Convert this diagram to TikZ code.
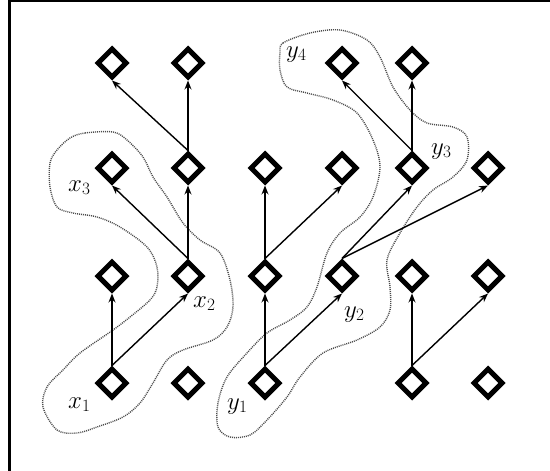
\documentclass[tikz,border=0pt]{standalone}
\usepackage{fontspec}
\setmainfont{Liberation Serif}
\usetikzlibrary{shapes.geometric,arrows.meta}
\newcommand\lbl[2]{$#1_{#2}$}
\tikzset{
  dia/.style={shape=diamond, draw, line width=5pt, minimum width=30pt, minimum height=30pt, inner sep=0pt, aspect=1},
  conn/.style={line width=1.4pt, -{Stealth[length=9pt,width=7pt,inset=3pt]}},
  hull/.style={draw=black!70, line width=1.4pt, dash pattern=on 1pt off 1pt},
  lab/.style={anchor=base west, inner sep=0pt, font=\fontsize{27}{27}\selectfont},
  frame/.style={line width=3pt}
}
\begin{document}
\begin{tikzpicture}[x=1pt,y=-1pt]
\useasboundingbox (0,0) rectangle (550,471);
\fill[white] (0,0) rectangle (550,471);
% frame (left and top edges)
\coordinate (fb) at (9.5,471);
\coordinate (fc) at (9.5,1.2);
\coordinate (fr) at (550,1.2);
\draw[frame] (fb) -- (fc);
\draw[line width=2.4pt] (8,1.2) -- (fr);
% hulls
\draw[hull] plot[smooth cycle, tension=0.55] coordinates {
 (70,138) (85,133) (113,132) (127,140) (143,157) (153,177) (167,197) (183,223)
 (200,240) (220,253) (230,280) (233,307) (227,327) (213,340) (183,350) (167,360)
 (153,383) (140,403) (123,417) (97,427) (77,433) (57,430) (43,407) (47,387)
 (63,370) (80,353) (113,330) (130,317) (150,300) (157,287) (157,267) (147,247)
 (120,227) (97,217) (73,213) (57,207) (50,187) (50,163) (57,150)};
\draw[hull] plot[smooth cycle, tension=0.55] coordinates {
 (280,53) (283,43) (310,33) (340,30) (367,40) (380,57) (393,87) (410,110)
 (427,123) (453,127) (467,137) (467,160) (453,177) (433,190) (417,207) (400,233)
 (387,260) (390,287) (390,310) (380,327) (357,340) (323,353) (300,377) (287,397)
 (267,420) (250,435) (230,437) (218,427) (218,403) (227,377) (247,353) (267,333)
 (290,320) (307,307) (317,287) (327,253) (340,233) (360,217) (373,197) (380,167)
 (373,140) (357,113) (333,100) (307,93) (287,87) (280,70)};
% nodes
\node[dia] (n11) at (112,63) {};
\node[dia] (n21) at (188,63) {};
\node[dia] (n41) at (342,63) {};
\node[dia] (n51) at (412,63) {};
\node[dia] (n12) at (112,168) {};
\node[dia] (n22) at (188,168) {};
\node[dia] (n32) at (265,168) {};
\node[dia] (n42) at (342,168) {};
\node[dia] (n52) at (412,168) {};
\node[dia] (n62) at (488,168) {};
\node[dia] (n13) at (112,276) {};
\node[dia] (n23) at (188,276) {};
\node[dia] (n33) at (265,276) {};
\node[dia] (n43) at (342,276) {};
\node[dia] (n53) at (412,276) {};
\node[dia] (n63) at (488,276) {};
\node[dia] (n14) at (112,383) {};
\node[dia] (n24) at (188,383) {};
\node[dia] (n34) at (265,383) {};
\node[dia] (n54) at (412,383) {};
\node[dia] (n64) at (488,383) {};
% connectors
\draw[conn] (n14.north) -- (n13.south);
\draw[conn] (n14.north) -- (n23.south);
\draw[conn] (n23.north) -- (n12.south);
\draw[conn] (n23.north) -- (n22.south);
\draw[conn] (n22.north) -- (n11.south);
\draw[conn] (n22.north) -- (n21.south);
\draw[conn] (n34.north) -- (n33.south);
\draw[conn] (n34.north) -- (n43.south);
\draw[conn] (n33.north) -- (n32.south);
\draw[conn] (n33.north) -- (n42.south);
\draw[conn] (n43.north) -- (n52.south);
\draw[conn] (n43.north) -- (n62.south);
\draw[conn] (n52.north) -- (n41.south);
\draw[conn] (n52.north) -- (n51.south);
\draw[conn] (n54.north) -- (n53.south);
\draw[conn] (n54.north) -- (n63.south);
% labels
\node[lab] (lx1) at (68,408) {\lbl{x}{1}};
\node[lab] (lx2) at (193,307) {\lbl{x}{2}};
\node[lab] (lx3) at (68,191) {\lbl{x}{3}};
\node[lab] (ly1) at (227,409) {\lbl{y}{1}};
\node[lab] (ly2) at (344,317) {\lbl{y}{2}};
\node[lab] (ly3) at (431,154) {\lbl{y}{3}};
\node[lab] (ly4) at (286,57) {\lbl{y}{4}};
\end{tikzpicture}
\end{document}
